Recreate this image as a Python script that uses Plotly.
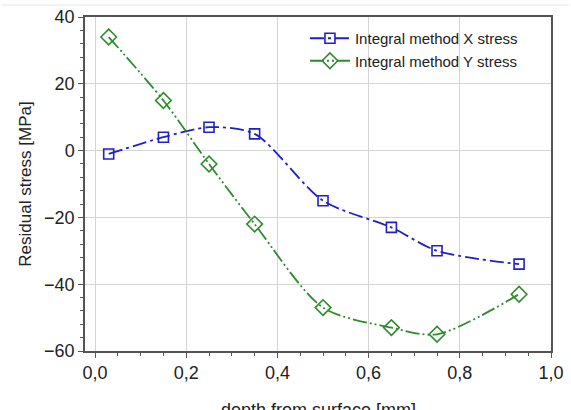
import plotly.graph_objects as go

depth = [0.03, 0.15, 0.25, 0.35, 0.50, 0.65, 0.75, 0.93]
x_stress = [-1, 4, 7, 5, -15, -23, -30, -34]
y_stress = [34, 15, -4, -22, -47, -53, -55, -43]

blue = "#2020c8"
green = "#2e8b2e"
font_fam = "Liberation Sans, Arial"

fig = go.Figure()
fig.add_trace(go.Scatter(
    x=depth, y=x_stress, name="Integral method X stress",
    mode="lines+markers", line=dict(color=blue, width=1.8, shape="spline", smoothing=0.8,
                                    dash="14px,4px,3px,4px"),
    marker=dict(symbol="square-open", size=10, color=blue, line=dict(width=1.6))))
fig.add_trace(go.Scatter(
    x=depth, y=y_stress, name="Integral method Y stress",
    mode="lines+markers", line=dict(color=green, width=1.8, shape="spline", smoothing=0.8,
                                    dash="14px,3px,2px,3px,2px,3px"),
    marker=dict(symbol="diamond-open", size=12, color=green, line=dict(width=1.6))))

axis_common = dict(showline=True, linecolor="#555555", linewidth=1.5, mirror=True,
                   showgrid=True, gridcolor="#d4d4d4", gridwidth=1, zeroline=False,
                   ticks="outside", ticklen=5, tickcolor="#555555", automargin=False,
                   tickfont=dict(family=font_fam, size=18, color="#222222"))

fig.update_xaxes(range=[-0.022, 1.0], tickvals=[0, 0.2, 0.4, 0.6, 0.8, 1.0],
                 tickformat=".1f",
                 minor=dict(ticks="outside", ticklen=3, dtick=0.05, tickcolor="#555555", showgrid=False),
                 **axis_common)
fig.update_yaxes(range=[-60, 40], tickvals=[-60, -40, -20, 0, 20, 40],
                 minor=dict(ticks="outside", ticklen=3, dtick=4, tickcolor="#555555", showgrid=False),
                 title=dict(text="Residual stress [MPa]", standoff=8,
                            font=dict(family=font_fam, size=17, color="#222222")),
                 **axis_common)

fig.update_layout(
    width=571, height=410, separators=",.",
    margin=dict(l=85, r=20, t=17, b=59),
    paper_bgcolor="white", plot_bgcolor="white",
    legend=dict(x=0.472, y=0.985, xanchor="left", yanchor="top", bgcolor="rgba(0,0,0,0)",
                font=dict(family=font_fam, size=15, color="#222222"),
                tracegroupgap=0, itemwidth=40),
    showlegend=True,
    annotations=[dict(text="depth from surface [mm]", xref="paper", yref="paper",
                      x=0.5, y=-0.14, xanchor="center", yanchor="top", showarrow=False,
                      font=dict(family=font_fam, size=18, color="#222222"))],
    shapes=[dict(type="line", xref="paper", yref="paper", x0=-0.18, x1=1.04, y0=1.036, y1=1.036,
                 line=dict(color="#e6e6e6", width=1))],
)

fig.write_html("out.html")
